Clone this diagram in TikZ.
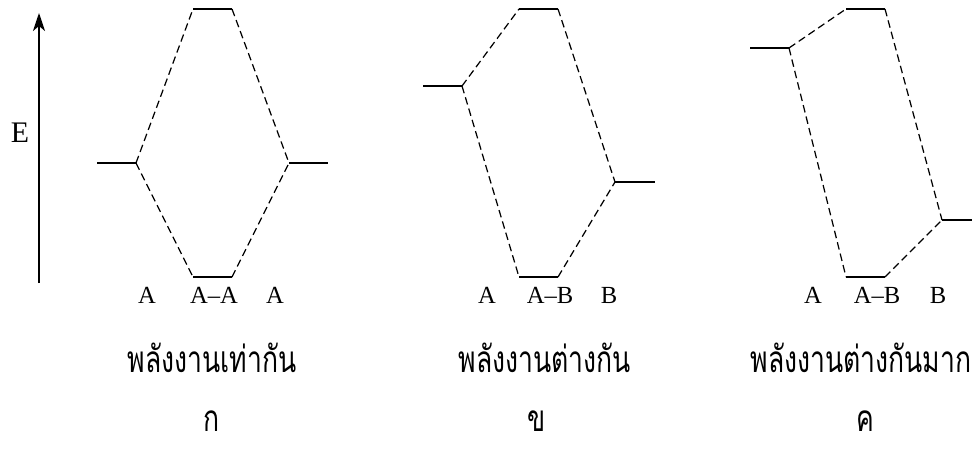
\documentclass[tikz,border=0pt]{standalone}
\usepackage{fontspec}
\setmainfont{Liberation Serif}
\newfontfamily\thaifont[Script=Thai,FakeStretch=0.72]{Loma}
\usetikzlibrary{arrows.meta}

\begin{document}
\begin{tikzpicture}[x=0.02cm,y=-0.02cm,
  level/.style={line width=0.9pt},
  link/.style={dash pattern=on 4.3pt off 2.4pt,line width=0.7pt},
  lbl/.style={font=\fontsize{14}{16}\selectfont,inner sep=0pt,anchor=base},
  thai/.style={font=\thaifont\fontsize{21}{24}\selectfont,inner sep=0pt}
]
\useasboundingbox (0,0) rectangle (972,450);
% energy axis
\coordinate (eb) at (39,283);
\coordinate (et) at (39,13);
\draw[-{Stealth[length=3.6mm,width=2.4mm,inset=1mm]},line width=0.9pt] (eb) -- (et);
\node[font=\fontsize{17}{20}\selectfont,inner sep=0pt] (elbl) at (20,133) {E};

% ก: same energy
\coordinate (l11) at (97,163);  \coordinate (l12) at (136,163);
\coordinate (t11) at (193,9);   \coordinate (t12) at (232,9);
\coordinate (b11) at (193,277); \coordinate (b12) at (232,277);
\coordinate (r11) at (289,163); \coordinate (r12) at (328,163);
\draw[level] (l11) -- (l12);
\draw[level] (t11) -- (t12);
\draw[level] (b11) -- (b12);
\draw[level] (r11) -- (r12);
\draw[link] (l12) -- (t11);
\draw[link] (l12) -- (b11);
\draw[link] (t12) -- (r11);
\draw[link] (b12) -- (r11);
\node[lbl] (xa1) at (147,303) {A};
\node[lbl] (xab1) at (214,303) {A--A};
\node[lbl] (xb1) at (275,303) {A};

% ข: different energy
\coordinate (l21) at (423,86);  \coordinate (l22) at (462,86);
\coordinate (t21) at (519,9);   \coordinate (t22) at (558,9);
\coordinate (b21) at (519,277); \coordinate (b22) at (558,277);
\coordinate (r21) at (615,182); \coordinate (r22) at (655,182);
\draw[level] (l21) -- (l22);
\draw[level] (t21) -- (t22);
\draw[level] (b21) -- (b22);
\draw[level] (r21) -- (r22);
\draw[link] (l22) -- (t21);
\draw[link] (l22) -- (b21);
\draw[link] (t22) -- (r21);
\draw[link] (b22) -- (r21);
\node[lbl] (xa2) at (487,303) {A};
\node[lbl] (xab2) at (550,303) {A--B};
\node[lbl] (xb2) at (609,303) {B};

% ค: very different energy
\coordinate (l31) at (750,48);  \coordinate (l32) at (789,48);
\coordinate (t31) at (846,9);   \coordinate (t32) at (885,9);
\coordinate (b31) at (846,277); \coordinate (b32) at (885,277);
\coordinate (r31) at (942,220); \coordinate (r32) at (981,220);
\draw[level] (l31) -- (l32);
\draw[level] (t31) -- (t32);
\draw[level] (b31) -- (b32);
\draw[level] (r31) -- (r32);
\draw[link] (l32) -- (t31);
\draw[link] (l32) -- (b31);
\draw[link] (t32) -- (r31);
\draw[link] (b32) -- (r31);
\node[lbl] (xa3) at (813,303) {A};
\node[lbl] (xab3) at (877,303) {A--B};
\node[lbl] (xb3) at (938,303) {B};

% captions
\node[thai] (cap1) at (212,358) {พลังงานเท่ากัน};
\node[thai] (cap2) at (545,358) {พลังงานต่างกัน};
\node[thai] (cap3) at (861,358) {พลังงานต่างกันมาก};
\node[thai] (id1) at (212,421) {ก};
\node[thai] (id2) at (537,421) {ข};
\node[thai] (id3) at (865,421) {ค};
\end{tikzpicture}
\end{document}
